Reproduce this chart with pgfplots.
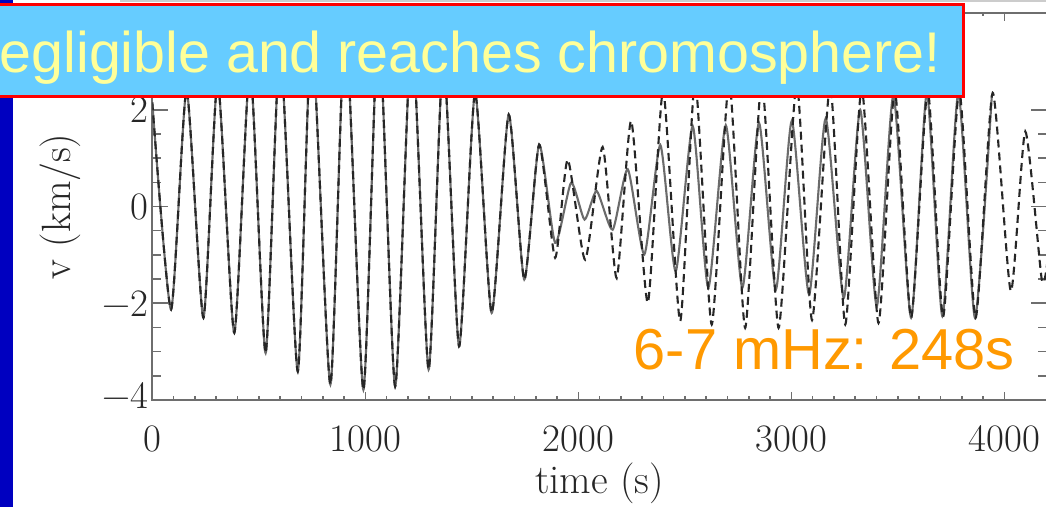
\documentclass[border=0pt]{standalone}
\usepackage{fontspec}
\usepackage{pgfplots}
\pgfplotsset{compat=1.18}
\newfontfamily\arial{Liberation Sans}
\definecolor{bannerblue}{HTML}{66CCFF}
\definecolor{slideblue}{HTML}{0000C0}
\definecolor{bannertext}{HTML}{FFFF99}
\definecolor{orangetxt}{HTML}{FF9900}
\definecolor{axgray}{HTML}{6E6E6E}
\begin{document}
\begin{tikzpicture}[x=1bp,y=1bp]
\useasboundingbox (0,0) rectangle (1046,507);
\clip (0,0) rectangle (1046,507);
\fill[white] (0,0) rectangle (1046,507);
\fill[slideblue] (0,0) rectangle (13,507);
\draw[gray!40, line width=2.5bp] (120,506) -- (1046,506);
\begin{axis}[at={(152.3bp,107bp)}, anchor=south west,
  width=894.7bp, height=387bp, scale only axis,
  xmin=0, xmax=4200, ymin=-4, ymax=4,
  xtick={0,1000,2000,3000,4000}, xticklabels={0,1000,2000,3000,4000},
  ytick={-4,-2,0,2}, yticklabels={\raisebox{9bp}{−4},−2,0,2},
  minor x tick num=9, minor y tick num=3,
  axis line style={axgray, line width=1.8bp},
  every tick/.style={axgray, line width=1.6bp},
  xtick style={/pgfplots/major tick length=8bp, /pgfplots/minor tick length=3.5bp},
  ytick style={/pgfplots/major tick length=16bp, /pgfplots/minor tick length=9bp},
  xticklabel style={font=\fontsize{39}{40}\selectfont, text=black!85, yshift=-22bp},
  yticklabel style={font=\fontsize{39}{40}\selectfont, text=black!85},
  xlabel={time (s)}, ylabel={v (km/s)},
  xlabel style={at={(axis description cs:0.5,-0.214)}, anchor=center, font=\fontsize{41}{42}\selectfont, text=black!85},
  ylabel style={at={(axis description cs:-0.103,0.5)}, anchor=center, font=\fontsize{41}{42}\selectfont, text=black!85},
]
\addplot[black!58, line width=2.1bp, smooth, tension=0.37] coordinates {
(0,2.15) (88,-2.13) (161,2.4) (240,-2.30) (307,2.6) (385,-2.61) (459,2.9) (532,-3.03)
(600,3.3) (683,-3.41) (748,3.6) (836,-3.68) (906,3.8) (991,-3.79) (1062,3.85) (1140,-3.72)
(1218,3.6) (1297,-3.37) (1366,3.1) (1440,-2.89) (1515,2.35) (1593,-2.20) (1673,1.90)
(1746,-1.51) (1816,1.28) (1891,-0.75) (1966,0.49) (2029,-0.27) (2086,0.32) (2161,-0.48)
(2232,0.77) (2310,-0.99) (2385,1.27) (2457,-1.34) (2537,1.66) (2610,-1.68) (2692,1.68)
(2770,-1.68) (2848,1.73) (2927,-1.72) (3002,1.77) (3083,-1.82) (3161,1.82) (3246,-1.89)
(3323,2.0) (3401,-2.06) (3479,2.3) (3562,-2.3) (3636,2.35) (3709,-2.27) (3784,2.35)
(3862,-2.3) (3941,2.3)
};
\addplot[black!85, line width=2.1bp, dash pattern=on 8bp off 5bp, smooth, tension=0.37] coordinates {
(0,2.15) (88,-2.13) (161,2.4) (240,-2.30) (307,2.6) (385,-2.61) (459,2.9) (532,-3.03)
(600,3.3) (683,-3.41) (748,3.6) (836,-3.68) (906,3.8) (991,-3.79) (1062,3.85) (1140,-3.72)
(1218,3.6) (1297,-3.37) (1366,3.1) (1440,-2.89) (1515,2.35) (1593,-2.20) (1673,1.90)
(1746,-1.51) (1816,1.28) (1891,-1.06) (1950,0.97) (2032,-1.10) (2114,1.23) (2180,-1.48)
(2248,1.77) (2326,-1.99) (2398,2.4) (2478,-2.37) (2548,2.6) (2626,-2.44) (2708,2.6)
(2783,-2.51) (2861,2.6) (2940,-2.51) (3025,2.55) (3097,-2.35) (3182,2.5) (3253,-2.44)
(3330,2.45) (3409,-2.41) (3485,2.4) (3562,-2.3) (3640,2.4) (3712,-2.28) (3788,2.4)
(3865,-2.3) (3945,2.35) (4030,-1.75) (4098,1.55) (4175,-1.5) (4200,-1.2)
};
\end{axis}
\draw[red, line width=3bp, fill=bannerblue] (-20,410) rectangle (963,502);
\node[anchor=base east, text=bannertext, font=\arial\fontsize{57.6}{60}\selectfont, inner sep=0pt] at (941,434) {Negligible and reaches chromosphere!};
\node[anchor=base east, text=orangetxt, font=\arial\fontsize{58}{60}\selectfont, inner sep=0pt] at (1015,137) {6-7 mHz: 248s};
\end{tikzpicture}
\end{document}
